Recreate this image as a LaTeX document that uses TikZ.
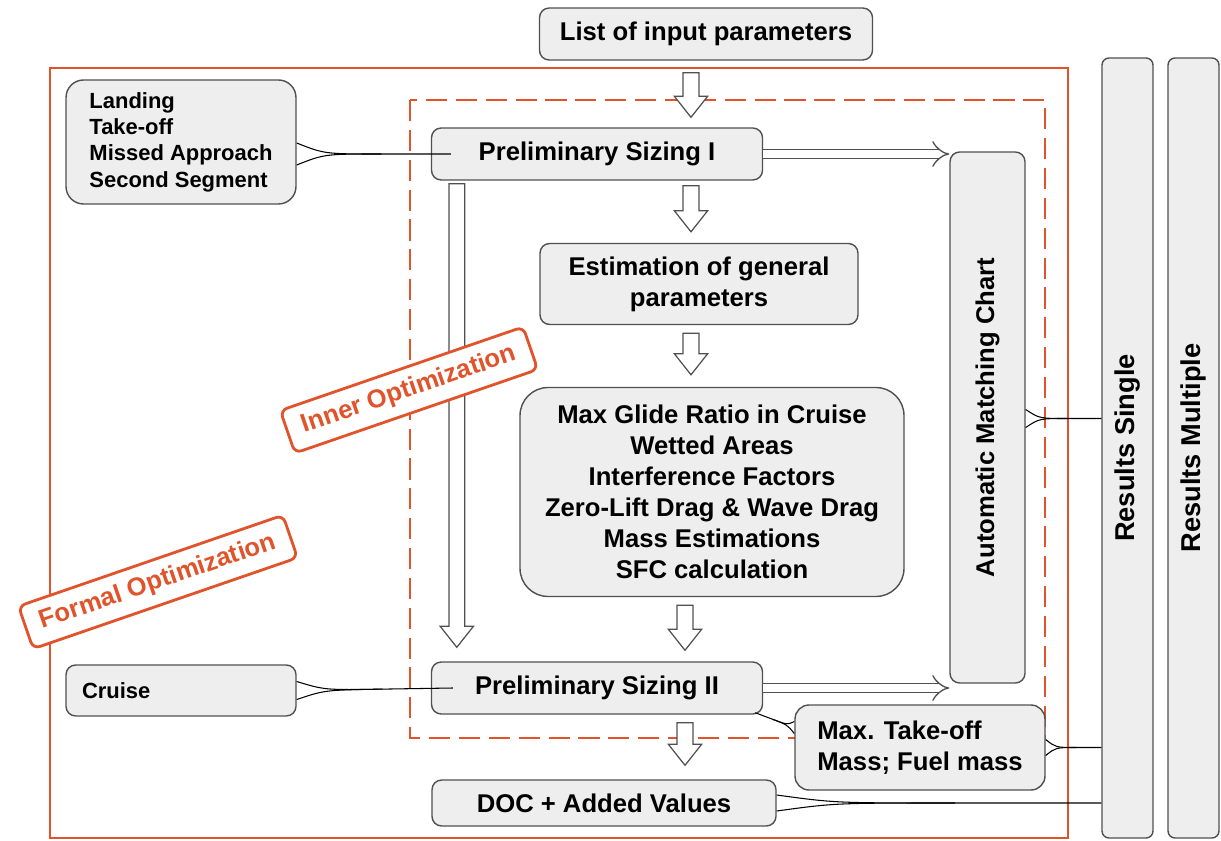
\documentclass[tikz,border=0pt]{standalone}
\usepackage{fontspec}
\setmainfont{Liberation Sans}
\usetikzlibrary{calc,arrows.meta}
\definecolor{optorange}{HTML}{E0532B}
\definecolor{boxfill}{HTML}{EEEEEE}
\definecolor{boxline}{HTML}{505050}
\tikzset{
  % text
  every node/.style={font=\fontsize{14.6}{17.6}\selectfont\bfseries},
  small text/.style={font=\fontsize{12.5}{15}\selectfont\bfseries},
  % grey boxes
  box/.style 2 args={
    draw=boxline, fill=boxfill, line width=0.8pt,
    rounded corners=5.5pt, inner sep=0pt, align=center,
    minimum width=#1*0.02cm, minimum height=#2*0.02cm,
  },
  % optimisation frames and their tags
  frame solid/.style={draw=optorange, line width=1.4pt},
  frame dashed/.style={draw=optorange, line width=1.4pt, dash pattern=on 12pt off 5pt},
  opt tag/.style={
    draw=optorange, line width=1.6pt, fill=white, text=optorange,
    rounded corners=4pt, inner xsep=9pt, inner ysep=6pt, rotate=19,
  },
  % connectors
  wire/.style={draw=black, line width=0.6pt},
  hollow/.style={draw=boxline, fill=white, line width=0.7pt, line join=miter},
  twin/.style={draw=boxline, double=white, line width=0.75pt,
    double distance=4.5pt, -{Implies}},
}
% tapered callout line, wide end first
\newcommand\taper[3]{%
  \draw[wire] ($(#1)+(0,#3)$) .. controls ($(#1)!.18!(#2)$) .. ($(#1)!.55!(#2)$) -- (#2);
  \draw[wire] ($(#1)-(0,#3)$) .. controls ($(#1)!.18!(#2)$) .. ($(#1)!.55!(#2)$);}
% outlined block arrow pointing down
\newcommand\blockdown[2]{%
  \draw[hollow] let \p1=(#1), \p2=(#2) in
    (\x1-4.5pt,\y1) -- (\x1-4.5pt,\y2+12pt) -- (\x1-9.5pt,\y2+12pt) -- (\x1,\y2)
    -- (\x1+9.5pt,\y2+12pt) -- (\x1+4.5pt,\y2+12pt) -- (\x1+4.5pt,\y1) -- cycle;}

\begin{document}
\begin{tikzpicture}[x=0.02cm, y=-0.02cm]
  \useasboundingbox (0,0) rectangle (1221,841);

  % frames
  \draw[frame solid] (50,68) rectangle (1068,838);
  \draw[frame dashed] (410,100) rectangle (1045,738);

  % columns for the block arrows
  \coordinate (spine) at (691,0);
  \coordinate (spine2) at (685,0);

  % boxes
  \node[box={333}{52}] (input) at (706,34) {List of input parameters};
  \node[box={230}{124}, rounded corners=10pt, align=left, small text] (landing) at (181,142)
    {Landing\\Take-off\\Missed Approach\\Second Segment};
  \node[box={331}{52}] (prelimI) at (597,154) {Preliminary Sizing I};
  \node[box={318}{81}] (est) at (699,284) {Estimation of general\\parameters};
  \node[box={384}{209}, rounded corners=16pt] (calc) at (712,492)
    {Max Glide Ratio in Cruise\\Wetted Areas\\Interference Factors\\
     Zero-Lift Drag \& Wave Drag\\Mass Estimations\\SFC calculation};
  \node[box={331}{52}] (prelimII) at (597,688) {Preliminary Sizing II};
  \node[box={344}{46}] (doc) at (604,803) {DOC + Added Values};
  \node[box={531}{75}, rotate=90] (amc) at (987.5,417.5) {Automatic Matching Chart};
  \node[box={230}{51}, text width=198*0.02cm, align=left, inner xsep=16*0.02cm, small text]
    (cruise) at (181,690.5) {Cruise};
  \node[box={780}{51}, rotate=90, rounded corners=4pt, font=\fontsize{15.5}{18}\selectfont\bfseries]
    (single) at (1127.5,448) {Results Single};
  \node[box={780}{51}, rotate=90, rounded corners=4pt, font=\fontsize{15.5}{18}\selectfont\bfseries]
    (multi) at (1193.5,448) {Results Multiple};

  % block arrows
  \blockdown{$(spine |- input.south)+(0,12)$}{$(spine |- prelimI.north)-(0,10)$}
  \blockdown{$(spine |- prelimI.south)+(0,5)$}{$(spine |- est.north)-(0,11)$}
  \blockdown{$(spine |- est.south)+(0,8)$}{$(spine |- calc.north)-(0,12)$}
  \blockdown{$(spine2 |- calc.south)+(0,8)$}{$(spine2 |- prelimII.north)-(0,11)$}
  \blockdown{$(spine2 |- prelimII.south)+(0,8)$}{$(spine2 |- doc.north)-(0,14)$}
  \blockdown{$(prelimI.south west)+(26,3)$}{$(prelimII.north west)+(26,-14)$}

  % double arrows into the chart
  \draw[twin] (prelimI.east) -- (prelimI.east -| amc.north);
  \draw[twin] (prelimII.east) -- (prelimII.east -| amc.north);

  \node[box={250}{85}, rounded corners=8pt, align=left] (maxto) at (920,747.5)
    {Max. Take-off\\Mass; Fuel mass};

  % callouts
  \taper{landing.east |- prelimI.west}{$(prelimI.west)+(20,0)$}{11}
  \taper{cruise.east}{$(prelimII.west)+(22,0)$}{9}
  \taper{$(amc.south)+(0,1)$}{$(amc.south -| single.north)+(0,1)$}{9}
  \taper{maxto.east}{maxto.east -| single.north}{8}
  \taper{$(maxto.west)+(0,-20)$}{$(prelimII.south east)+(-8,-2)$}{6}
  \taper{doc.east}{doc.east -| single.north}{8}

  % optimisation tags
  \node[opt tag] (inner) at (409,390) {Inner Optimization};
  \node[opt tag] (formal) at (158,582) {Formal Optimization};
\end{tikzpicture}
\end{document}
